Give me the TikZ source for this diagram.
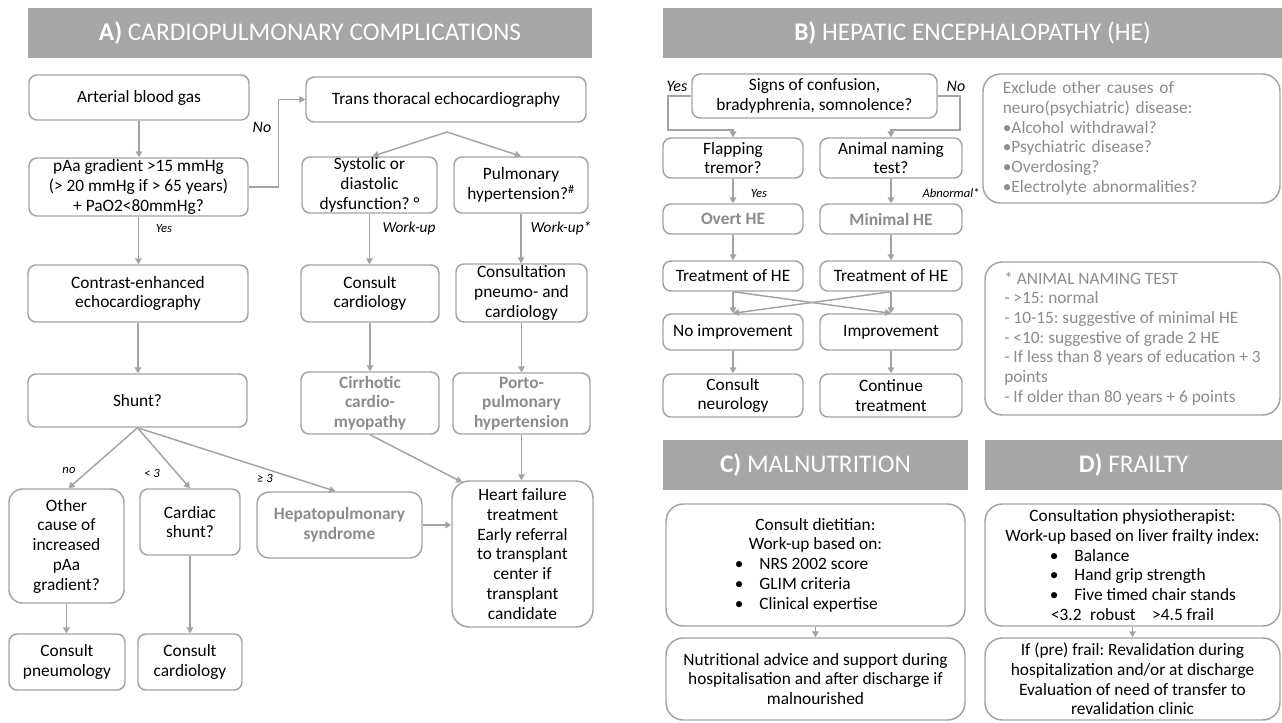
\documentclass[tikz,border=0pt]{standalone}
\usepackage{fontspec}
\setmainfont{Carlito}
\frenchspacing
\usetikzlibrary{arrows.meta,calc}
\definecolor{bdr}{HTML}{A3A3A3}
\definecolor{hdrc}{HTML}{A6A6A6}
\definecolor{gtx}{HTML}{8C8C8C}
\newcommand\mybox[7][]{%
  \pgfmathsetmacro\mybw{(#5-#3)*0.75}%
  \pgfmathsetmacro\mybh{(#6-#4)*0.75}%
  \node[box,minimum width=\mybw pt,minimum height=\mybh pt,#1] (#2) at ({(#3+#5)/2},{(#4+#6)/2}) {#7};}
\begin{document}
\begin{tikzpicture}[x=0.75pt,y=-0.75pt,
  box/.style={draw=bdr,line width=1.1pt,rounded corners=6pt,fill=white,align=center,inner sep=0pt,
    font=\fontsize{13}{14.8}\selectfont},
  gbold/.style={text=gtx,font=\fontsize{13}{14.8}\selectfont\bfseries},
  big/.style={rounded corners=13pt},
  hdr/.style={draw=none,fill=hdrc,rounded corners=0pt,text=white,font=\fontsize{19}{22}\selectfont},
  arr/.style={draw=bdr,line width=1.1pt,-{Triangle[length=4.5pt,width=5pt]}},
  lab/.style={font=\fontsize{9.5}{11}\selectfont\itshape,inner sep=1pt},
  labm/.style={font=\fontsize{11.5}{13}\selectfont\itshape,inner sep=1pt},
  labb/.style={font=\fontsize{12}{14}\selectfont\itshape,inner sep=1pt}]
\useasboundingbox (0,0) rectangle (1282,722);
% ---------------- headers
\mybox[hdr]{hA}{28}{8}{592}{58}{\textbf{A)} CARDIOPULMONARY COMPLICATIONS}
\mybox[hdr]{hB}{663}{8}{1282}{58}{\textbf{B)} HEPATIC ENCEPHALOPATHY (HE)}
\mybox[hdr]{hC}{663}{440}{968}{490}{\textbf{C)} MALNUTRITION}
\mybox[hdr]{hD}{985}{440}{1282}{490}{\textbf{D)} FRAILTY}
% ---------------- panel A
\mybox{abg}{29}{75}{249}{120}{Arterial blood gas}
\mybox{tte}{306}{77}{586}{122}{Trans thoracal echocardiography}
\mybox{paa}{29}{158}{248}{216}{pAa gradient >15 mmHg\\(> 20 mmHg if > 65 years)\\+ PaO2<80mmHg?}
\mybox{sys}{302}{157}{437}{213}{Systolic or\\diastolic\\dysfunction? °}
\mybox{pulm}{454}{157}{588}{213}{Pulmonary\\hypertension?\textsuperscript{\#}}
\mybox{ce}{28}{265}{248}{322}{Contrast-enhanced\\echocardiography}
\mybox{cc}{301}{265}{439}{322}{Consult\\cardiology}
\mybox{cpc}{456}{264}{587}{322}{Consultation\\pneumo- and\\cardiology}
\mybox{shunt}{28}{374}{247}{427}{Shunt?}
\mybox[gbold]{cirr}{301}{372}{439}{434}{Cirrhotic\\cardio-\\myopathy}
\mybox[gbold]{porto}{453}{373}{590}{434}{Porto-\\pulmonary\\hypertension}
\mybox[rounded corners=10pt]{other}{9}{489}{124}{603}{Other\\cause of\\increased\\pAa\\gradient?}
\mybox{cardiac}{140}{489}{240}{555}{Cardiac\\shunt?}
\mybox[gbold,rounded corners=9pt]{hps}{257}{492}{422}{558}{Hepatopulmonary\\syndrome}
\mybox[big]{hf}{452}{481}{593}{627}{Heart failure\\treatment\\Early referral\\to transplant\\center if\\transplant\\candidate}
\mybox{cp}{9}{634}{125}{690}{Consult\\pneumology}
\mybox{cc2}{138}{634}{242}{690}{Consult\\cardiology}
\coordinate (apex) at (447,132);
\draw[arr] (abg.south) -- (abg.south |- paa.north);
\draw[arr] (paa.east) -- ++(30,0) |- (tte.west);
\draw[arr] (apex) -- ($(sys.north)+(3,0)$);
\draw[arr] (apex) -- (pulm.north);
\draw[arr] (paa.south) -- (paa.south |- ce.north);
\draw[arr] (sys.south) -- (sys.south |- cc.north);
\draw[arr] (pulm.south) -- (pulm.south |- cpc.north);
\draw[arr] (ce.south) -- (ce.south |- shunt.north);
\draw[arr] (cc.south) -- (cc.south |- cirr.north);
\draw[arr] (cpc.south) -- (cpc.south |- porto.north);
\draw[arr] (shunt.south) -- ($(other.north)+(2,0)$);
\draw[arr] (shunt.south) -- (cardiac.north);
\draw[arr] (shunt.south) -- ($(hps.north)+(-4,0)$);
\draw[arr] (cirr.south) -- ($(hf.north west)+(11,2)$);
\draw[arr] (porto.south) -- (porto.south |- hf.north);
\draw[arr] (hps.east) -- (hps.east -| hf.west);
\draw[arr] (other.south) -- (other.south |- cp.north);
\draw[arr] (cardiac.south) -- (cardiac.south |- cc2.north);
\node[labb] (lno) at (262,127) {No};
\node[lab] (lyes) at (164,228) {Yes};
\node[labm] (lwu) at (409,228) {Work-up};
\node[labm] (lwu2) at (561,228) {Work-up*};
\node[lab] (lno2) at (69,470) {no};
\node[lab] (llt) at (152,473) {< 3};
\node[lab] (lge) at (265,478) {≥ 3};
% ---------------- panel B
\mybox{signs}{692}{74}{937}{118}{Signs of confusion,\\bradyphrenia, somnolence?}
\mybox{flap}{663}{138}{803}{178}{Flapping\\tremor?}
\mybox{ant}{820}{138}{962}{178}{Animal naming\\test?}
\mybox[gbold]{overt}{663}{204}{803}{234}{Overt HE}
\mybox[gbold]{minimal}{820}{204}{962}{234}{Minimal HE}
\mybox{tr1}{663}{261}{803}{291}{Treatment of HE}
\mybox{tr2}{820}{261}{962}{291}{Treatment of HE}
\mybox{noimp}{663}{314}{803}{350}{No improvement}
\mybox{imp}{820}{314}{962}{350}{Improvement}
\mybox{cn}{663}{374}{803}{417}{Consult\\neurology}
\mybox{ct}{820}{374}{962}{417}{Continue\\treatment}
\mybox[big,align=left,text=gtx,text width=193pt]{excl}{983}{74}{1280}{203}{Exclude other causes of\\neuro(psychiatric) disease:\\•Alcohol withdrawal?\\•Psychiatric disease?\\•Overdosing?\\•Electrolyte abnormalities?}
\mybox[big,align=left,text=gtx]{antn}{985}{262}{1280}{415}{* ANIMAL NAMING TEST\\- >15: normal\\- 10-15: suggestive of minimal HE\\- <10: suggestive of grade 2 HE\\- If less than 8 years of education + 3\\points\\- If older than 80 years + 6 points}
\draw[arr] (signs.west) -| (668,130) -| (flap.north);
\draw[arr] (signs.east) -| (960,130) -| (ant.north);
\draw[arr] (flap.south) -- (overt.north);
\draw[arr] (ant.south) -- (minimal.north);
\draw[arr] (overt.south) -- (tr1.north);
\draw[arr] (minimal.south) -- (tr2.north);
\draw[arr] (tr1.south) -- (noimp.north);
\draw[arr] (tr1.south) -- (imp.north);
\draw[arr] (tr2.south) -- (imp.north);
\draw[arr] (tr2.south) -- (noimp.north);
\draw[arr] (noimp.south) -- (cn.north);
\draw[arr] (imp.south) -- (ct.north);
\node[labb] (byes) at (677,86) {Yes};
\node[labb] (bno) at (956,86) {No};
\node[lab] (byes2) at (759,193) {Yes};
\node[lab] (babn) at (951,193) {Abnormal*};
% ---------------- panel C
\mybox[big]{diet}{666}{504}{965}{626}{Consult dietitian:\\Work-up based on:\\\makebox[121pt][l]{•\hspace{12pt}NRS 2002 score}\\\makebox[121pt][l]{•\hspace{12pt}GLIM criteria}\\\makebox[121pt][l]{•\hspace{12pt}Clinical expertise}}
\mybox[big]{nutr}{666}{638}{965}{720}{Nutritional advice and support during\\hospitalisation and after discharge if\\malnourished}
\draw[arr] (diet.south) -- (nutr.north);
% ---------------- panel D
\mybox[big]{phys}{985}{504}{1280}{626}{Consultation physiotherapist:\\Work-up based on liver frailty index:\\\makebox[124pt][l]{•\hspace{12pt}Balance}\\\makebox[124pt][l]{•\hspace{12pt}Hand grip strength}\\\makebox[124pt][l]{•\hspace{12pt}Five timed chair stands}\\<3.2\enspace robust\enspace\ \ >4.5 frail}
\mybox[big]{frail}{985}{638}{1280}{720}{If (pre) frail: Revalidation during\\hospitalization and/or at discharge\\Evaluation of need of transfer to\\revalidation clinic}
\draw[arr] (phys.south) -- (frail.north);
\end{tikzpicture}
\end{document}
